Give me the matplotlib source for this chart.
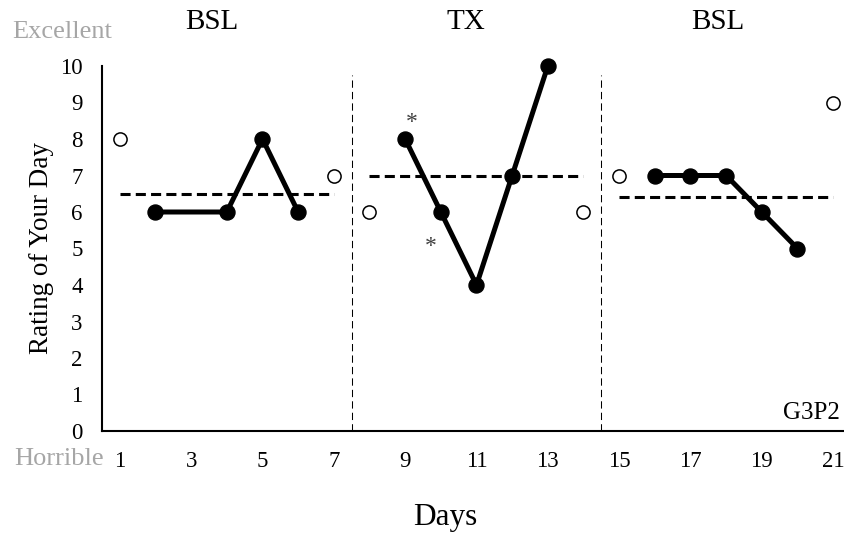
import matplotlib
matplotlib.use('Agg')
import matplotlib.pyplot as plt
import numpy as np

plt.rcParams['font.family'] = ['Liberation Serif', 'DejaVu Serif']

# baseline 1 (day 3 missing, line still connected)
bsl1_days = [2, 3, 4, 5, 6]
bsl1_vals = [6, np.nan, 6, 8, 6]
# treatment
tx_days = [9, 10, 11, 12, 13]
tx_vals = [8, 6, 4, 7, 10]
# baseline 2
bsl2_days = [16, 17, 18, 19, 20]
bsl2_vals = [7, 7, 7, 6, 5]
# open circle probes at phase edges
probe_days = [1, 7, 8, 14, 15, 21]
probe_vals = [8, 7, 6, 6, 7, 9]
# phase means
mean_starts = [1, 8, 15]
mean_ends = [7, 14, 21]
mean_vals = [6.5, 7.0, 6.4]
phase_breaks = [7.5, 14.5]
phase_names = ["BSL", "TX", "BSL"]
phase_label_x = [3.58, 10.7, 17.77]
star_days = [9, 10]
star_vals = [8, 6]
xtick_vals = list(range(1, 22, 2))
ytick_vals = list(range(0, 11))

fig = plt.figure(figsize=(8.45, 5.38), dpi=100)
ax = fig.add_axes([102/845, 1 - 431/538, 749/845, 365/538])

for d, v in [(bsl1_days, bsl1_vals), (tx_days, tx_vals), (bsl2_days, bsl2_vals)]:
    d = np.array(d, dtype=float)
    v = np.array(v, dtype=float)
    ok = ~np.isnan(v)
    ax.plot(d[ok], v[ok], color='black', lw=3.6, marker='o', ms=10.8,
            solid_capstyle='round', zorder=4, clip_on=False)

ax.plot(probe_days, probe_vals, ls='none', marker='o', ms=9.5, mfc='white',
        mec='black', mew=1.1, zorder=4, clip_on=False)

for s, e, m in zip(mean_starts, mean_ends, mean_vals):
    ax.plot([s, e], [m, m], color='black', lw=2.2, dashes=(3.3, 1.7), zorder=3)

for b in phase_breaks:
    ax.plot([b, b], [0, 9.75], color='black', lw=0.75, dashes=(7, 4), zorder=2,
            clip_on=False)

for name, x in zip(phase_names, phase_label_x):
    ax.text(x, 11.2, name, ha='center', va='center', fontsize=21)

ax.text(star_days[0] + 0.19, star_vals[0] + 0.45, "*", ha='center', va='center',
        fontsize=17, color='#404040')
ax.text(star_days[1] - 0.28, star_vals[1] - 0.95, "*", ha='center', va='center',
        fontsize=17, color='#404040')

ax.text(19.6, 0.5, "G3P2", ha='left', va='center', fontsize=18, clip_on=False)

ax.set_xlim(0.5, 21.5)
ax.set_ylim(0, 10)
ax.set_xticks(xtick_vals)
ax.set_yticks(ytick_vals)
ax.tick_params(axis='x', length=0, pad=14.5, labelsize=16.5)
ax.tick_params(axis='y', length=0, pad=14, labelsize=16.5)
for sp in ['top', 'right']:
    ax.spines[sp].set_visible(False)
for sp in ['left', 'bottom']:
    ax.spines[sp].set_linewidth(1.5)

fig.text(62/845, 1 - 32/538, "Excellent", ha='center', va='center',
         fontsize=19, color='#A6A6A6')
fig.text(59/845, 1 - 459/538, "Horrible", ha='center', va='center',
         fontsize=19, color='#A6A6A6')
fig.text(42/845, 1 - 248/538, "Rating of Your Day", ha='center', va='center',
         rotation=90, fontsize=19.5)
fig.text(445/845, 1 - 518/538, "Days", ha='center', va='center', fontsize=22.5)

plt.savefig('out.png', dpi=100)
plt.close()
